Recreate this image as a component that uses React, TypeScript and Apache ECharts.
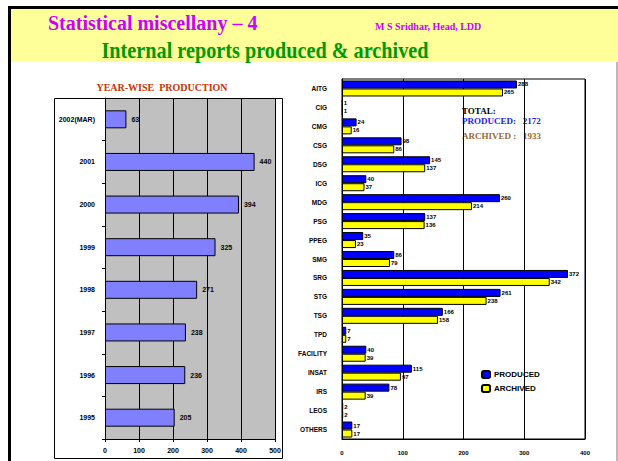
import React, { useEffect, useRef } from "react";
import * as echarts from "echarts";

const years = ["2002(MAR)", "2001", "2000", "1999", "1998", "1997", "1996", "1995"];
const yearValues = [63, 440, 394, 325, 271, 238, 236, 205];
const yearAxisMax = 500;
const yearAxisStep = 100;

const groups = ["AITG", "CIG", "CMG", "CSG", "DSG", "ICG", "MDG", "PSG", "PPEG", "SMG", "SRG", "STG", "TSG", "TPD", "FACILITY", "INSAT", "IRS", "LEOS", "OTHERS"];
const produced = [288, 1, 24, 98, 145, 40, 260, 137, 35, 86, 372, 261, 166, 7, 40, 115, 78, 2, 17];
const archived = [265, 1, 16, 86, 137, 37, 214, 136, 23, 79, 342, 238, 158, 7, 39, 97, 39, 2, 17];
const groupAxisMax = 400;
const groupAxisStep = 100;

const totalProduced = "2172";
const totalArchived = "1933";

const SANS = "'Liberation Sans', Arial, sans-serif";
const SERIF = "'Liberation Serif', 'Times New Roman', serif";

export default function App() {
  const ref = useRef<HTMLDivElement>(null);
  useEffect(() => {
    if (!ref.current) return;
    const chart = echarts.init(ref.current, undefined, { renderer: "svg" });
    const option: any = {
      animation: false,
      backgroundColor: "#ffffff",
      legend: {
        data: ["PRODUCED", "ARCHIVED"],
        orient: "vertical",
        left: 481,
        top: 370,
        itemWidth: 8,
        itemHeight: 7,
        itemGap: 5,
        padding: 0,
        textStyle: { fontFamily: SANS, fontSize: 8, fontWeight: "bold", color: "#000", padding: [0, 0, 0, -1] },
      },
      graphic: [
        { type: "rect", shape: { x: 10, y: 9, width: 608, height: 53 }, style: { fill: "#ffff99" }, silent: true },
        { type: "rect", shape: { x: 8, y: 6, width: 610, height: 3 }, style: { fill: "#000" }, silent: true },
        { type: "rect", shape: { x: 8, y: 6, width: 3, height: 455 }, style: { fill: "#000" }, silent: true },
        { type: "line", shape: { x1: 617, y1: 62, x2: 617, y2: 461 }, style: { stroke: "#777", lineWidth: 1 }, silent: true },
        { type: "rect", shape: { x: 54.5, y: 98.5, width: 228, height: 360 }, style: { fill: "none", stroke: "#000", lineWidth: 1 }, silent: true },
        { type: "text", x: 48, y: 22.5, style: { text: "Statistical miscellany – 4", fill: "#cc00ff", font: `bold 20px ${SERIF}`, textVerticalAlign: "middle" } },
        { type: "text", x: 375, y: 26, style: { text: "M S Sridhar, Head, LDD", fill: "#cc00ff", font: `bold 10px ${SERIF}`, textVerticalAlign: "middle" } },
        { type: "text", x: 265, y: 50.5, scaleX: 0.88, style: { text: "Internal reports produced & archived", fill: "#009900", font: `bold 23px ${SERIF}`, textAlign: "center", textVerticalAlign: "middle" } },
        { type: "text", x: 162, y: 87, style: { text: "YEAR-WISE  PRODUCTION", fill: "#cc3300", font: `bold 10px ${SERIF}`, textAlign: "center", textVerticalAlign: "middle" } },
        { type: "text", x: 462, y: 111, style: { text: "TOTAL:", fill: "#000", font: `bold 9px ${SERIF}`, textVerticalAlign: "middle" } },
        { type: "text", x: 462, y: 121, style: { text: "PRODUCED:   " + totalProduced, fill: "#2222ee", font: `bold 9px ${SERIF}`, textVerticalAlign: "middle" } },
        { type: "text", x: 462, y: 136, style: { text: "ARCHIVED :   " + totalArchived, fill: "#996633", font: `bold 9px ${SERIF}`, textVerticalAlign: "middle" } },
      ],
      grid: [
        { left: 105, top: 98, width: 170, height: 341, show: true, backgroundColor: "#c0c0c0", borderWidth: 0, containLabel: false },
        { left: 342, top: 79, width: 243, height: 360, show: true, backgroundColor: "#ffffff", borderColor: "#000", borderWidth: 1, containLabel: false },
      ],
      xAxis: [
        {
          gridIndex: 0, type: "value", min: 0, max: yearAxisMax, interval: yearAxisStep,
          axisLine: { show: true, lineStyle: { color: "#000" } },
          axisTick: { show: true, length: 3, lineStyle: { color: "#000" } },
          axisLabel: { fontFamily: SANS, fontSize: 7, fontWeight: "bold", color: "#000", margin: 8 },
          splitLine: { show: true, lineStyle: { color: "#000", width: 1 } },
        },
        {
          gridIndex: 1, type: "value", min: 0, max: groupAxisMax, interval: groupAxisStep,
          axisLine: { show: true, lineStyle: { color: "#000" } },
          axisTick: { show: false },
          axisLabel: { fontFamily: SANS, fontSize: 6, fontWeight: "bold", color: "#000", margin: 11 },
          splitLine: { show: true, lineStyle: { color: "#000", width: 1 } },
        },
      ],
      yAxis: [
        {
          gridIndex: 0, type: "category", data: years, inverse: true,
          axisLine: { show: true, lineStyle: { color: "#000" } },
          axisTick: { show: true, length: 3, lineStyle: { color: "#000" } },
          axisLabel: { fontFamily: SANS, fontSize: 7, fontWeight: "bold", color: "#000", margin: 10 },
        },
        {
          gridIndex: 1, type: "category", data: groups, inverse: true,
          axisLine: { show: true, lineStyle: { color: "#000" } },
          axisTick: { show: false },
          axisLabel: { fontFamily: SANS, fontSize: 6.5, fontWeight: "bold", color: "#000", margin: 15 },
        },
      ],
      series: [
        {
          name: "YEAR-WISE", type: "bar", xAxisIndex: 0, yAxisIndex: 0, data: yearValues, barWidth: 18,
          itemStyle: { color: "#8080ff", borderColor: "#000", borderWidth: 1 },
          label: { show: true, position: "right", distance: 5, fontFamily: SANS, fontSize: 7, fontWeight: "bold", color: "#000" },
        },
        {
          name: "PRODUCED", type: "bar", xAxisIndex: 1, yAxisIndex: 1, data: produced, barWidth: 8, barGap: "0%",
          itemStyle: { color: "#0000ff", borderColor: "#000", borderWidth: 1 },
          label: { show: true, position: "right", distance: 1, fontFamily: SANS, fontSize: 6, fontWeight: "bold", color: "#000" },
        },
        {
          name: "ARCHIVED", type: "bar", xAxisIndex: 1, yAxisIndex: 1, data: archived, barWidth: 8, barGap: "0%",
          itemStyle: { color: "#ffff00", borderColor: "#000", borderWidth: 1 },
          label: { show: true, position: "right", distance: 1, fontFamily: SANS, fontSize: 6, fontWeight: "bold", color: "#000" },
        },
      ],
    };
    chart.setOption(option);
    return () => chart.dispose();
  }, []);
  return <div ref={ref} style={{ position: "fixed", left: 0, top: 0, width: 618, height: 461 }} />;
}
